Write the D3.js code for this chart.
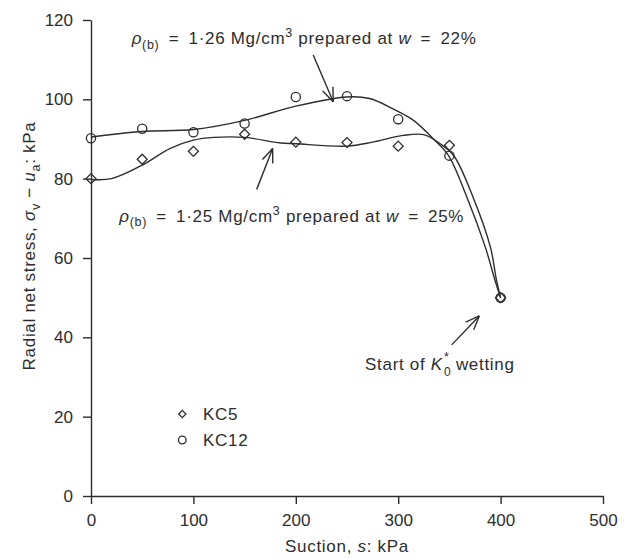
<!DOCTYPE html>
<html>
<head>
<meta charset="utf-8">
<script src="https://cdn.jsdelivr.net/npm/d3@7"></script>
<style>
body { margin: 0; background: #fff; }
svg { display: block; font-family: "Liberation Sans", Arial, Helvetica, sans-serif; }
text, tspan { white-space: pre; }
</style>
</head>
<body>
<div id="chart"></div>
<script>
// measured points, suction s (kPa) vs radial net stress (kPa)
const suction = [0, 50, 100, 150, 200, 250, 300, 350, 400];
const kc5 = [80, 84.9, 86.9, 91.2, 89.2, 89.1, 88.2, 88.4, 50];
const kc12 = [90.2, 92.6, 91.7, 93.9, 100.6, 100.8, 95.0, 85.8, 50];

// fitted trend lines
const kc5FitS = [0, 20, 50, 77, 100, 120, 150, 185, 200, 250, 275, 305, 325, 341, 354, 373, 390, 396, 400];
const kc5FitV = [79.8, 80, 83.4, 87.6, 89.7, 90.4, 90.4, 89.0, 88.8, 88.2, 89.2, 90.9, 91.1, 88.8, 85.9, 75.4, 62.8, 54.4, 50];
const kc12FitS = [0, 50, 100, 150, 200, 250, 272, 295, 315, 334, 349, 367, 385, 394.5, 400];
const kc12FitV = [90.5, 91.9, 92.4, 94.7, 98.3, 100.6, 100.2, 97.6, 94.7, 90.1, 85.9, 75.4, 62.8, 54.4, 50];

const xTicks = [0, 100, 200, 300, 400, 500];
const yTicks = [0, 20, 40, 60, 80, 100, 120];

const W = 633, H = 559;
const ink = "#2d2d2d";
const fs = 17;
const ls = 0.7; // the figure's type runs a little wide

const svg = d3.select("#chart").append("svg")
    .attr("width", W)
    .attr("height", H);
svg.append("rect").attr("width", W).attr("height", H).attr("fill", "#fff");

const x = d3.scaleLinear().domain([0, 500]).range([91, 603]);
const y = d3.scaleLinear().domain([0, 120]).range([496, 20]);

// axes
const xAxis = svg.append("g")
    .attr("transform", "translate(0," + y(0) + ")")
    .call(d3.axisBottom(x).tickValues(xTicks).tickSize(8).tickSizeOuter(0).tickPadding(10));
const yAxis = svg.append("g")
    .attr("transform", "translate(" + x(0) + ",0)")
    .call(d3.axisLeft(y).tickValues(yTicks).tickSize(8).tickSizeOuter(0).tickPadding(10));
[xAxis, yAxis].forEach(g => {
    g.select(".domain").attr("stroke", ink).attr("stroke-width", 1.4);
    g.selectAll(".tick line").attr("stroke", ink).attr("stroke-width", 1.4);
    g.selectAll(".tick text").attr("fill", ink).attr("font-size", fs)
        .attr("font-family", '"Liberation Sans", Arial, sans-serif');
});

// rich text helper: parts with italic / sub / sup
function rich(sel, parts) {
    let shift = 0;
    parts.forEach(p => {
        const target = p.sub ? 4.5 : p.sup ? -7 : 0;
        const ts = sel.append("tspan").text(p.t).attr("dy", target - shift);
        shift = target;
        if (p.sub || p.sup) ts.attr("font-size", 12.5);
        if (p.i) ts.attr("font-style", "italic");
    });
    return sel;
}

// axis titles
rich(svg.append("text")
    .attr("x", x(250)).attr("y", 552)
    .attr("text-anchor", "middle")
    .attr("font-size", fs).attr("letter-spacing", ls).attr("fill", ink),
    [{t: "Suction, "}, {t: "s", i: true}, {t: ": kPa"}]);

rich(svg.append("text")
    .attr("transform", "translate(35," + 246 + ") rotate(-90)")
    .attr("text-anchor", "middle")
    .attr("font-size", fs).attr("letter-spacing", ls).attr("fill", ink),
    [{t: "Radial net stress, "}, {t: "σ", i: true}, {t: "v", sub: true}, {t: " − "},
     {t: "u", i: true}, {t: "a", sub: true}, {t: ": kPa"}]);

// trend lines
const line = d3.line()
    .x(d => x(d[0]))
    .y(d => y(d[1]))
    .curve(d3.curveCatmullRom.alpha(0.5));

svg.append("path")
    .datum(d3.zip(kc5FitS, kc5FitV))
    .attr("d", line)
    .attr("fill", "none").attr("stroke", ink).attr("stroke-width", 1.4);
svg.append("path")
    .datum(d3.zip(kc12FitS, kc12FitV))
    .attr("d", line)
    .attr("fill", "none").attr("stroke", ink).attr("stroke-width", 1.4);

// markers
const diamond = d3.symbol().type(d3.symbolSquare).size(50);
const diamondSmall = d3.symbol().type(d3.symbolSquare).size(26);

svg.selectAll(".kc5")
    .data(d3.zip(suction, kc5))
    .enter().append("path")
    .attr("class", "kc5")
    .attr("d", diamond)
    .attr("transform", d => "translate(" + x(d[0]) + "," + y(d[1]) + ") rotate(45)")
    .attr("fill", "none").attr("stroke", ink).attr("stroke-width", 1.3);

svg.selectAll(".kc12")
    .data(d3.zip(suction, kc12))
    .enter().append("circle")
    .attr("class", "kc12")
    .attr("cx", d => x(d[0]))
    .attr("cy", d => y(d[1]))
    .attr("r", 4.6)
    .attr("fill", "none").attr("stroke", ink).attr("stroke-width", 1.3);

// arrows (annotation pointers)
function arrow(s0, v0, s1, v1) {
    const x0 = x(s0), y0 = y(v0), x1 = x(s1), y1 = y(v1);
    const a = Math.atan2(y1 - y0, x1 - x0);
    const len = 15, spread = 0.38;
    const g = svg.append("g").attr("stroke", ink).attr("stroke-width", 1.4).attr("fill", "none");
    g.append("line").attr("x1", x0).attr("y1", y0).attr("x2", x1).attr("y2", y1);
    [-spread, spread].forEach(o => {
        g.append("line").attr("x1", x1).attr("y1", y1)
            .attr("x2", x1 - len * Math.cos(a + o))
            .attr("y2", y1 - len * Math.sin(a + o));
    });
}
arrow(217, 111.2, 236.6, 99.4);
arrow(161.8, 77.3, 177.4, 87.6);
arrow(352.2, 38.1, 379.2, 45.4);

// annotations
const eq = "\u2002=\u2002";
rich(svg.append("text")
    .attr("x", x(39.7)).attr("y", 44)
    .attr("font-size", fs).attr("letter-spacing", ls).attr("fill", ink),
    [{t: "ρ", i: true}, {t: "(b)", sub: true}, {t: eq + "1·26 Mg/cm"}, {t: "3", sup: true},
     {t: " prepared at "}, {t: "w", i: true}, {t: eq + "22%"}]);

rich(svg.append("text")
    .attr("x", x(27.6)).attr("y", 221.7)
    .attr("font-size", fs).attr("letter-spacing", ls).attr("fill", ink),
    [{t: "ρ", i: true}, {t: "(b)", sub: true}, {t: eq + "1·25 Mg/cm"}, {t: "3", sup: true},
     {t: " prepared at "}, {t: "w", i: true}, {t: eq + "25%"}]);

// "Start of K*0 wetting" in one text element, star and zero stacked
const startX = x(267.6), startY = 370;
const st = svg.append("text")
    .attr("x", startX).attr("y", startY)
    .attr("font-size", fs).attr("letter-spacing", ls).attr("fill", ink);
st.append("tspan").text("Start of ");
st.append("tspan").text("K").attr("font-style", "italic");
const kLen = st.node().getComputedTextLength();
st.append("tspan").text("*").attr("x", startX + kLen + 1).attr("dy", -9).attr("font-size", 12.5);
st.append("tspan").text("0").attr("x", startX + kLen + 1).attr("dy", 14.5).attr("font-size", 12);
st.append("tspan").text("wetting").attr("x", startX + kLen + 13).attr("dy", -5.5);

// legend
const legendNames = ["KC5", "KC12"];
const legendY = [414, 440];
const lx = 182.3;
svg.append("path")
    .attr("d", diamondSmall)
    .attr("transform", "translate(" + lx + "," + legendY[0] + ") rotate(45)")
    .attr("fill", "none").attr("stroke", ink).attr("stroke-width", 1.3);
svg.append("circle")
    .attr("cx", lx).attr("cy", legendY[1]).attr("r", 3.8)
    .attr("fill", "none").attr("stroke", ink).attr("stroke-width", 1.3);
legendNames.forEach((n, i) => {
    svg.append("text")
        .attr("x", 203).attr("y", legendY[i] + 6)
        .attr("font-size", fs).attr("letter-spacing", ls).attr("fill", ink)
        .text(n);
});
</script>
</body>
</html>
